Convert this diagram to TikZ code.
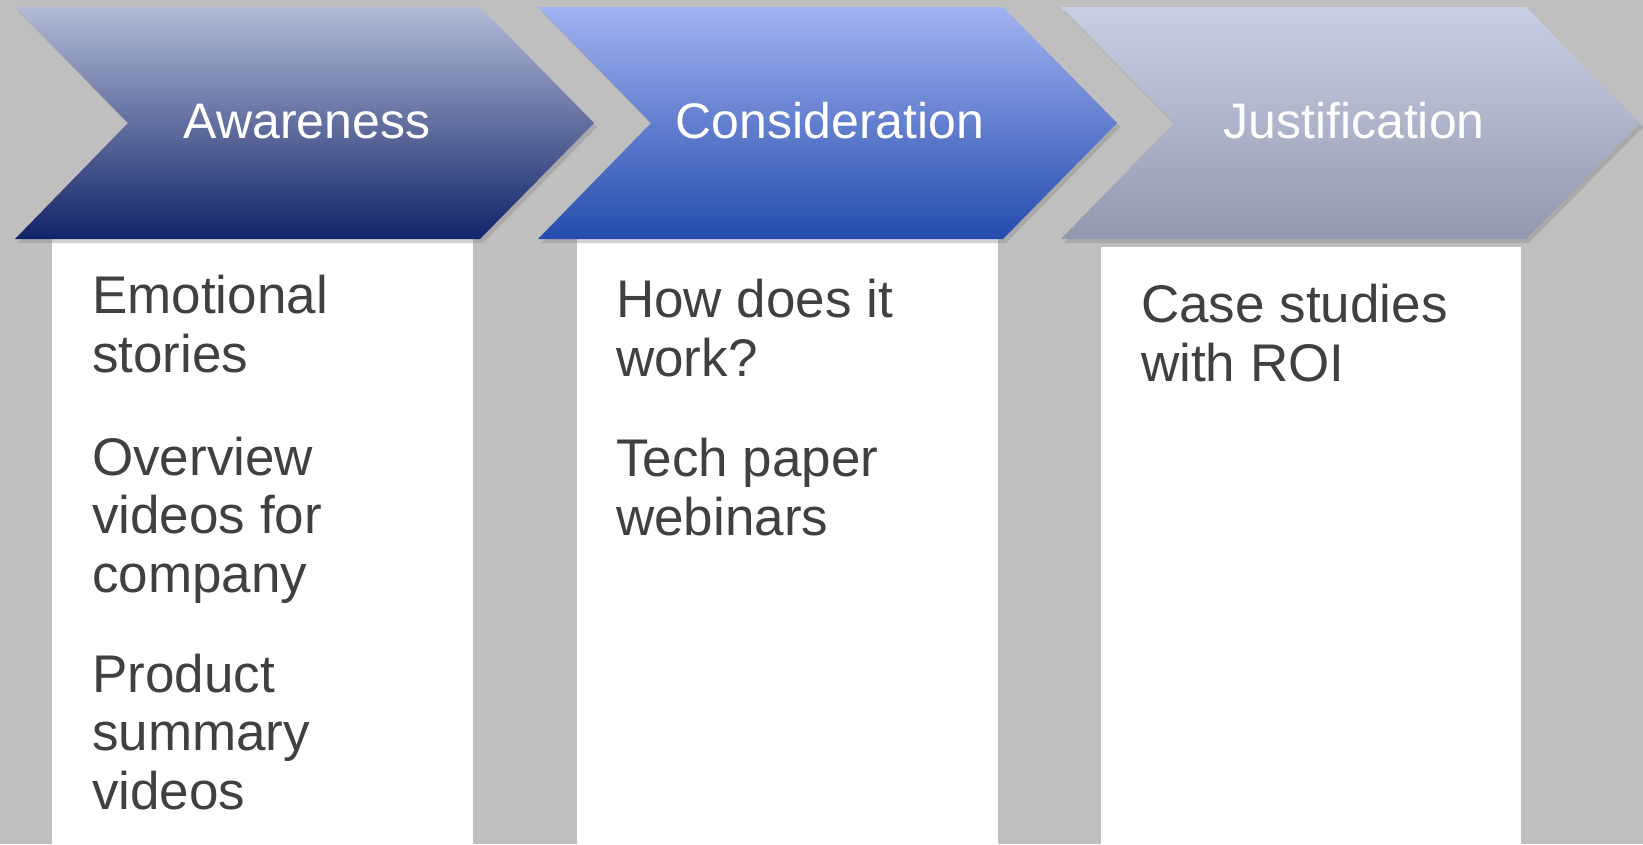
\documentclass[tikz,border=0pt]{standalone}
\usepackage{fontspec}
\setmainfont{Liberation Sans}
\usetikzlibrary{shadows}

\definecolor{bggray}{RGB}{191,191,191}
\definecolor{bodytext}{RGB}{64,64,64}
\definecolor{awaretop}{RGB}{178,186,214}
\definecolor{awaremid}{RGB}{120,128,162}
\definecolor{awarebot}{RGB}{18,36,104}
\definecolor{considtop}{RGB}{162,178,242}
\definecolor{considmid}{RGB}{114,138,216}
\definecolor{considbot}{RGB}{36,76,172}
\definecolor{justtop}{RGB}{202,208,228}
\definecolor{justmid}{RGB}{174,180,202}
\definecolor{justbot}{RGB}{146,152,174}

\begin{document}
\begin{tikzpicture}[x=1pt,y=-1pt,
    chevron/.style={drop shadow={shadow xshift=3pt,shadow yshift=-4pt,opacity=0.35}},
    heading/.style={text=white,font=\fontsize{50}{60}\selectfont,anchor=base,inner sep=0pt},
    item/.style={text=bodytext,font=\fontsize{53}{58.5}\selectfont,align=left,anchor=base west,inner sep=0pt}]

	\fill[bggray] (0,0) rectangle (1643,844);

	% white columns under the arrows
	\fill[white] (52,232) rectangle (473,844);
	\fill[white] (577,232) rectangle (998,844);
	\fill[white] (1101,247) rectangle (1521,844);

	% the three stages
	\shade[chevron,top color=awaretop,middle color=awaremid,bottom color=awarebot]
		(15,7) -- (480,7) -- (594,123) -- (480,239) -- (15,239) -- (128,123) -- cycle;
	\shade[chevron,top color=considtop,middle color=considmid,bottom color=considbot]
		(538,7) -- (1003,7) -- (1117,123) -- (1003,239) -- (538,239) -- (651,123) -- cycle;
	\shade[chevron,top color=justtop,middle color=justmid,bottom color=justbot]
		(1061,7) -- (1526,7) -- (1640,123) -- (1526,239) -- (1061,239) -- (1174,123) -- cycle;

	\node[heading] (aware) at (307,138) {Awareness};
	\node[heading] (consid) at (830,138) {Consideration};
	\node[heading] (just) at (1354,138) {Justification};

	% column contents (placed at the baseline of the last line)
	\node[item] (emo) at (92,372) {Emotional\\stories};
	\node[item] (over) at (92,592) {Overview\\videos for\\company};
	\node[item] (prod) at (92,809) {Product\\summary\\videos};

	\node[item] (how) at (616,376) {How does it\\work?};
	\node[item] (tech) at (616,535) {Tech paper\\webinars};

	\node[item] (case) at (1141,381) {Case studies\\with ROI};
\end{tikzpicture}
\end{document}
